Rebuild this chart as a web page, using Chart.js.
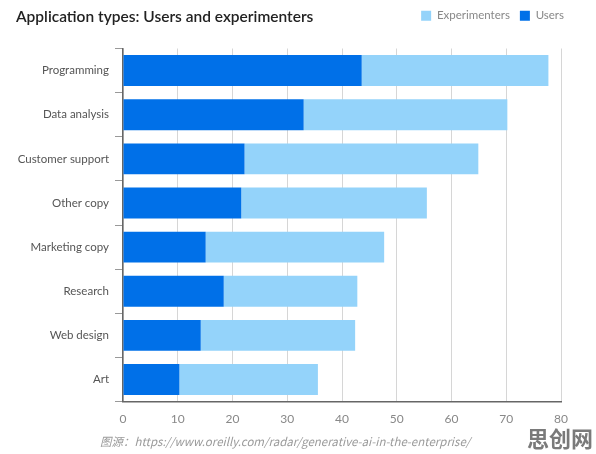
<!DOCTYPE html>
<html>
<head>
<meta charset="utf-8">
<script src="https://cdn.jsdelivr.net/npm/chart.js@4"></script>
<style>
  body { margin: 0; background: #fff; }
  #wrap { position: relative; width: 596px; height: 454px; overflow: hidden; font-family: Lato, "Noto Sans", sans-serif; }
  #title { position: absolute; left: 16px; top: 7px; font-size: 15.5px; font-weight: 600; color: #222; }
  #source { position: absolute; left: 100px; top: 433px; font-size: 11.5px; font-style: italic; color: #9a9a9a; font-family: "Noto Sans CJK SC", Lato, sans-serif; }
  #mark { position: absolute; left: 527px; top: 421px; font-size: 22px; font-weight: 700; color: #7a7a7a; font-family: "Noto Sans CJK SC", sans-serif; }
  canvas { position: absolute; left: 0; top: 0; }
</style>
</head>
<body>
<div id="wrap">
  <canvas id="appChart" width="596" height="454"></canvas>
  <div id="title">Application types: Users and experimenters</div>
  <div id="source">图源：https://www.oreilly.com/radar/generative-ai-in-the-enterprise/</div>
  <div id="mark">思创网</div>
</div>
<script>
const categories = ["Programming", "Data analysis", "Customer support", "Other copy",
  "Marketing copy", "Research", "Web design", "Art"];
const users = [43.6, 33.0, 22.2, 21.6, 15.1, 18.4, 14.2, 10.3];
const experimenters = [34.1, 37.2, 42.7, 33.9, 32.6, 24.4, 28.2, 25.3];
const xTicks = [0, 10, 20, 30, 40, 50, 60, 70, 80];

// push the plot area down below the legend row, and the legend a bit to the right
const legendSpacer = {
  id: "legendSpacer",
  beforeInit(chart) {
    const origFit = chart.legend.fit;
    chart.legend.fit = function () {
      origFit.bind(chart.legend)();
      this.height += 17;
    };
  },
  afterLayout(chart) {
    chart.legend.right += 13;
  }
};

const ctx = document.getElementById("appChart");
new Chart(ctx, {
  type: "bar",
  data: {
    labels: categories,
    datasets: [
      { label: "Users", data: users, backgroundColor: "#0070e8" },
      { label: "Experimenters", data: experimenters, backgroundColor: "#94d3fa" }
    ]
  },
  options: {
    indexAxis: "y",
    responsive: false,
    animation: false,
    categoryPercentage: 0.7,
    barPercentage: 1.0,
    layout: { padding: { left: 0, right: 35, top: 0, bottom: 18 } },
    plugins: {
      title: { display: false },
      tooltip: { enabled: false },
      legend: {
        position: "top",
        align: "end",
        reverse: true,
        labels: {
          boxWidth: 10,
          boxHeight: 10,
          padding: 10,
          color: "#888",
          font: { family: "Lato", size: 11.5 }
        }
      }
    },
    scales: {
      x: {
        stacked: true,
        min: 0,
        max: 80,
        afterBuildTicks(scale) {
          scale.ticks = xTicks.map(v => ({ value: v }));
        },
        grid: { color: "#d6d6d6", drawTicks: false },
        border: { color: "#666", width: 1.5 },
        ticks: { color: "#888", padding: 10, font: { family: "Lato", size: 12 } }
      },
      y: {
        stacked: true,
        afterFit(scale) { scale.width = 123; },
        grid: { drawOnChartArea: false, color: "#999", tickLength: 8 },
        border: { color: "#666", width: 1.5 },
        ticks: { color: "#555", padding: 6, font: { family: "Lato", size: 11.5 } }
      }
    }
  },
  plugins: [legendSpacer]
});
</script>
</body>
</html>
